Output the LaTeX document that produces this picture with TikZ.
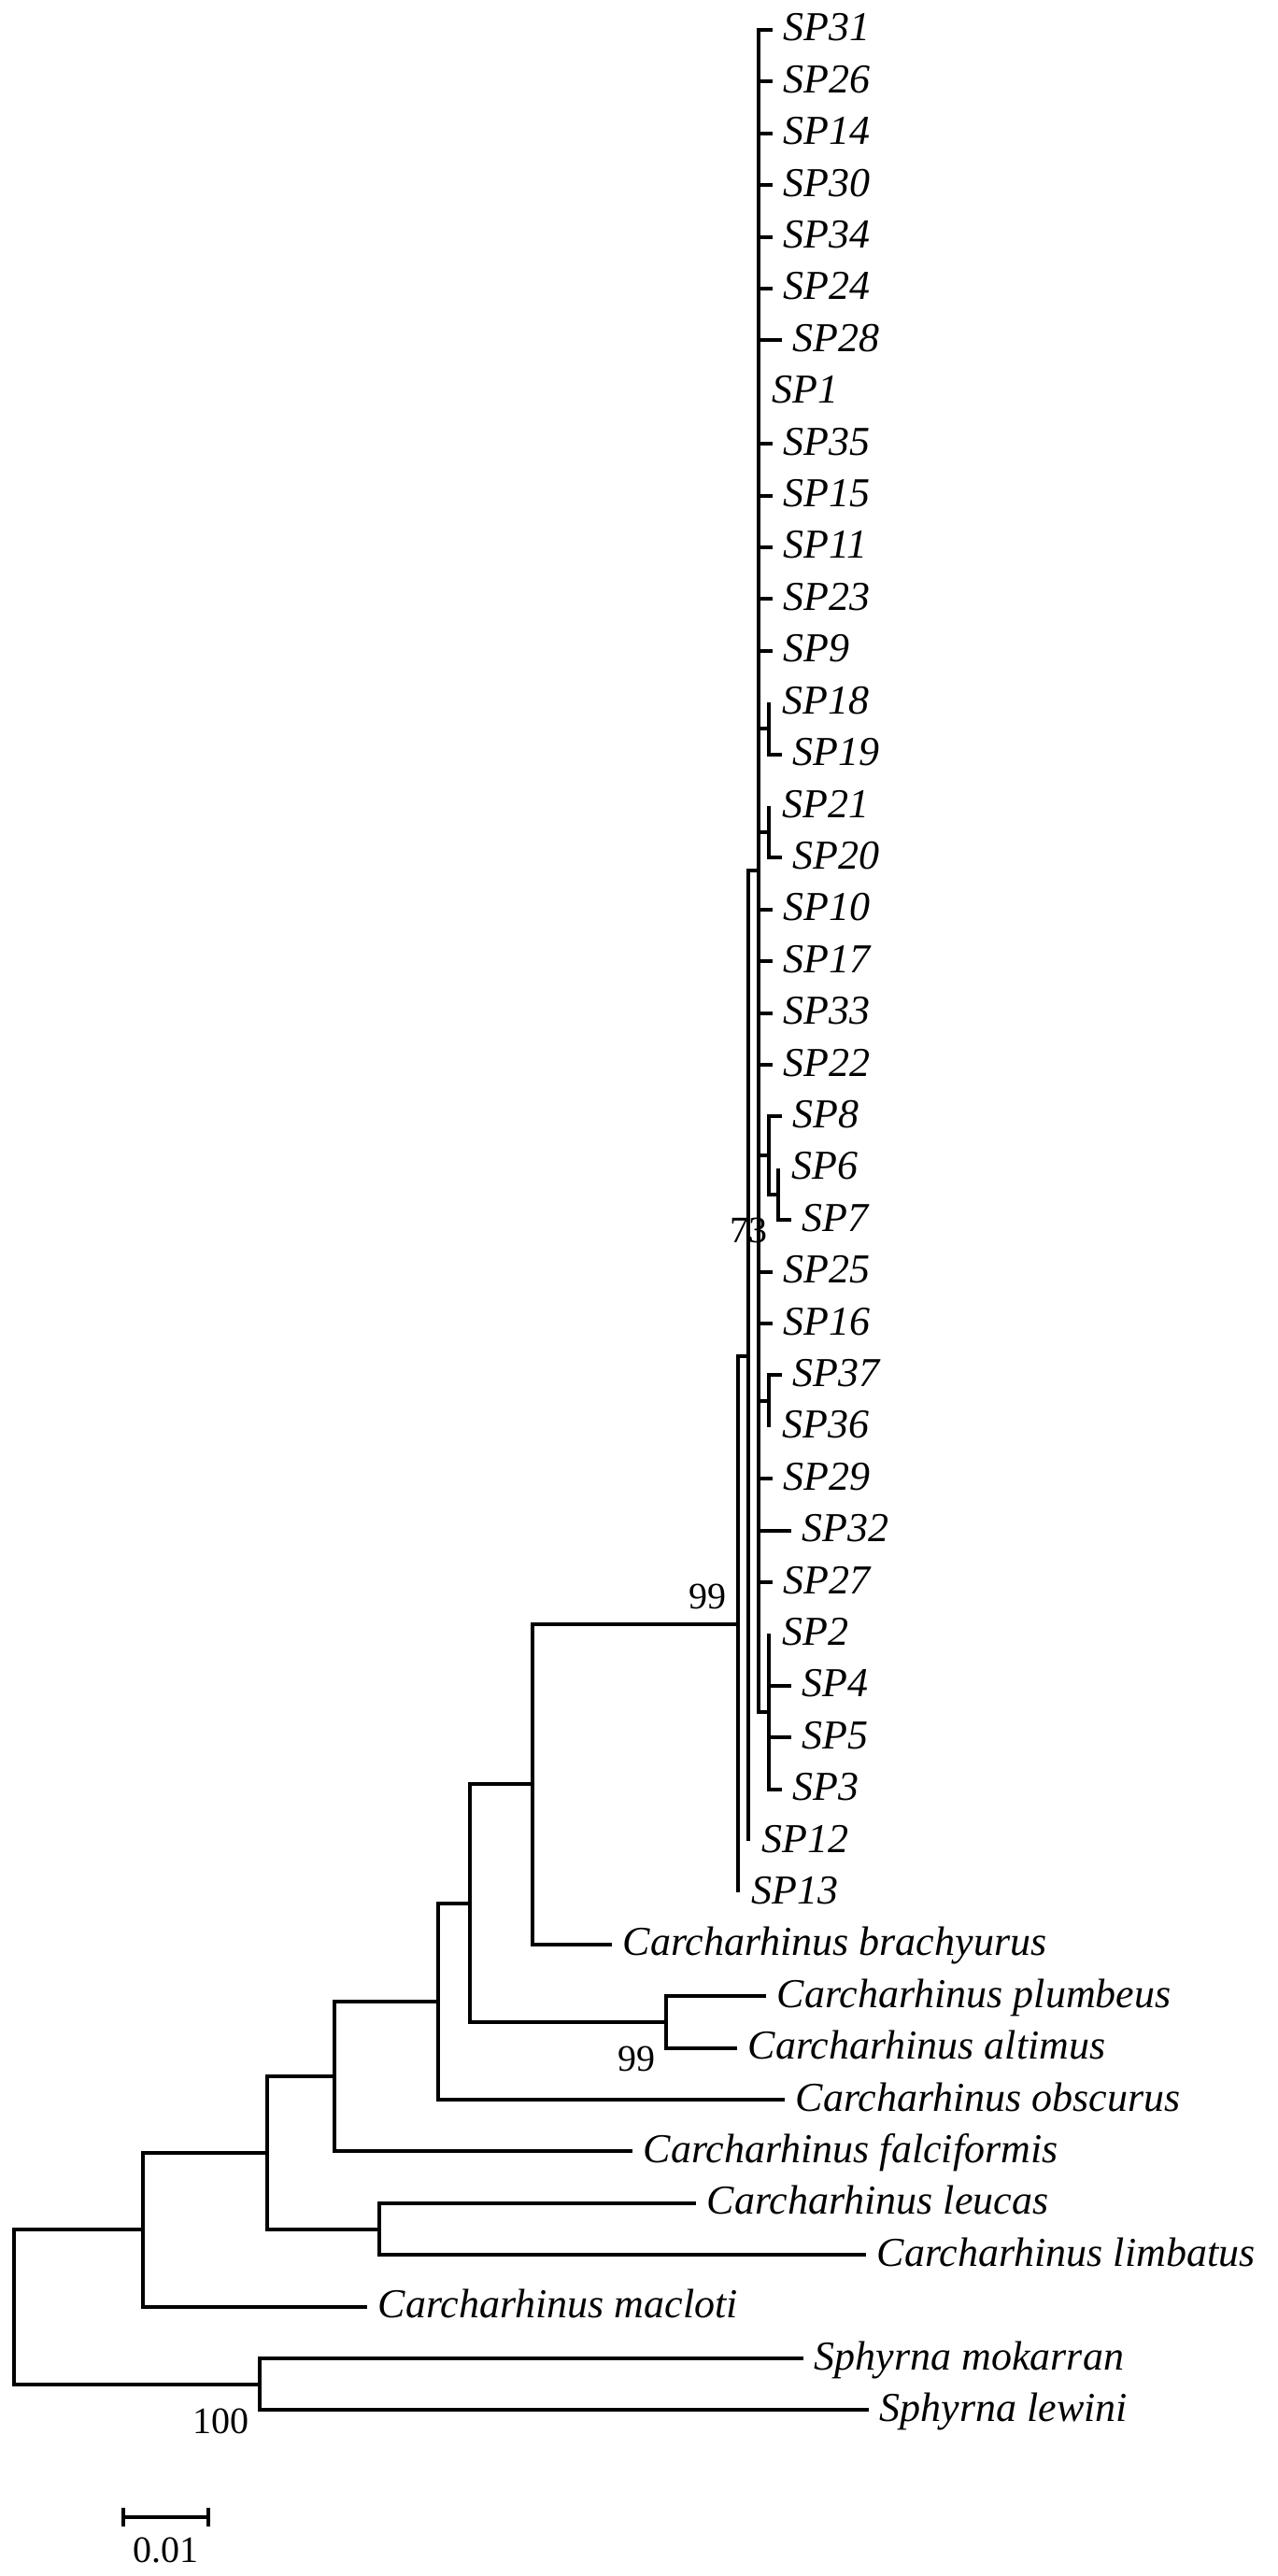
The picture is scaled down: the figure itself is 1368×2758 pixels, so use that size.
\documentclass[tikz,border=0pt]{standalone}
\usepackage{fontspec}
\setmainfont{Liberation Serif}
\newcommand\mytip[5]{\coordinate (#1) at (#2,#3);\node[lab] (#1l) at ({#2+#4},{#3+12}) {#5};}
\begin{document}
\begin{tikzpicture}[x=0.25pt,y=-0.25pt,
  br/.style={line width=1pt},
  lab/.style={font=\fontsize{11}{13}\selectfont\itshape, inner sep=0pt, anchor=base west},
  num/.style={font=\fontsize{10}{12}\selectfont, inner sep=0pt, anchor=base east}]
\useasboundingbox (0,0) rectangle (1368,2758);
% tips
\mytip{SP31}{827}{32}{11}{SP31}
\mytip{SP26}{827}{87.4}{11}{SP26}
\mytip{SP14}{827}{142.8}{11}{SP14}
\mytip{SP30}{827}{198.2}{11}{SP30}
\mytip{SP34}{827}{253.6}{11}{SP34}
\mytip{SP24}{827}{309}{11}{SP24}
\mytip{SP28}{837}{364.4}{11}{SP28}
\mytip{SP1}{812}{419.8}{14}{SP1}
\mytip{SP35}{827}{475.2}{11}{SP35}
\mytip{SP15}{827}{530.6}{11}{SP15}
\mytip{SP11}{827}{586}{11}{SP11}
\mytip{SP23}{827}{641.4}{11}{SP23}
\mytip{SP9}{827}{696.8}{11}{SP9}
\mytip{SP18}{823}{752.2}{14}{SP18}
\mytip{SP19}{837}{807.6}{11}{SP19}
\mytip{SP21}{823}{863}{14}{SP21}
\mytip{SP20}{837}{918.4}{11}{SP20}
\mytip{SP10}{827}{973.8}{11}{SP10}
\mytip{SP17}{827}{1029.2}{11}{SP17}
\mytip{SP33}{827}{1084.6}{11}{SP33}
\mytip{SP22}{827}{1140}{11}{SP22}
\mytip{SP8}{837}{1195.4}{11}{SP8}
\mytip{SP6}{833}{1250.8}{14}{SP6}
\mytip{SP7}{847}{1306.2}{11}{SP7}
\mytip{SP25}{827}{1361.6}{11}{SP25}
\mytip{SP16}{827}{1417}{11}{SP16}
\mytip{SP37}{837}{1472.4}{11}{SP37}
\mytip{SP36}{823}{1527.8}{14}{SP36}
\mytip{SP29}{827}{1583.2}{11}{SP29}
\mytip{SP32}{847}{1638.6}{11}{SP32}
\mytip{SP27}{827}{1694}{11}{SP27}
\mytip{SP2}{823}{1749.4}{14}{SP2}
\mytip{SP4}{847}{1804.8}{11}{SP4}
\mytip{SP5}{847}{1860.2}{11}{SP5}
\mytip{SP3}{837}{1915.6}{11}{SP3}
\mytip{SP12}{801}{1971}{14}{SP12}
\mytip{SP13}{790}{2026.4}{14}{SP13}
\mytip{brach}{655}{2081.8}{11}{Carcharhinus brachyurus}
\mytip{plumb}{820}{2137.2}{11}{Carcharhinus plumbeus}
\mytip{altim}{789}{2192.6}{11}{Carcharhinus altimus}
\mytip{obscu}{840}{2248}{11}{Carcharhinus obscurus}
\mytip{falci}{677}{2303.4}{11}{Carcharhinus falciformis}
\mytip{leuca}{745}{2358.8}{11}{Carcharhinus leucas}
\mytip{limba}{927}{2414.2}{11}{Carcharhinus limbatus}
\mytip{maclo}{393}{2469.6}{11}{Carcharhinus macloti}
\mytip{mokar}{860}{2525}{11}{Sphyrna mokarran}
\mytip{lewin}{930}{2580.4}{11}{Sphyrna lewini}
% internal nodes
\coordinate (M) at (823,779.9);
\coordinate (N) at (823,890.7);
\coordinate (P) at (833,1278.5);
\coordinate (O) at (823,1236.95);
\coordinate (Q) at (823,1500.1);
\coordinate (L) at (823,1832.5);
\coordinate (K) at (812,932.25);
\coordinate (J) at (801,1451.6);
\coordinate (I) at (790,1739);
\coordinate (H) at (570,1910.4);
\coordinate (G) at (713,2164.9);
\coordinate (F) at (503,2037.65);
\coordinate (E) at (469,2142.8);
\coordinate (D) at (358,2223.1);
\coordinate (C) at (406,2386.5);
\coordinate (B) at (286,2304.8);
\coordinate (A) at (153,2387.2);
\coordinate (S) at (278,2552.7);
\coordinate (R) at (15,2470);
% branches
\foreach \c in {SP31,SP26,SP14,SP30,SP34,SP24,SP28,SP1,SP35,SP15,SP11,SP23,SP9,M,N,SP10,SP17,SP33,SP22,O,SP25,SP16,Q,SP29,SP32,SP27,L}
  \draw[br] (K) |- (\c);
\foreach \p/\c in {M/SP18,M/SP19,N/SP21,N/SP20,O/SP8,O/P,P/SP6,P/SP7,Q/SP37,Q/SP36,
  L/SP2,L/SP4,L/SP5,L/SP3,J/K,J/SP12,I/J,I/SP13,H/I,H/brach,G/plumb,G/altim,
  F/H,F/G,E/F,E/obscu,D/E,D/falci,C/leuca,C/limba,B/D,B/C,A/B,A/maclo,
  S/mokar,S/lewin,R/A,R/S}
  \draw[br] (\p) |- (\c);
% support values
\node[num] (b73) at (822,1330) {73};
\node[num] (b99a) at (778,1722) {99};
\node[num] (b99b) at (702,2217) {99};
\node[num] (b100) at (267,2605) {100};
% scale bar
\coordinate (sb1) at (132,2695);
\coordinate (sb2) at (223,2695);
\draw[br] (sb1) -- (sb2);
\draw[br] ([yshift=2.6pt]sb1) -- ([yshift=-2.6pt]sb1);
\draw[br] ([yshift=2.6pt]sb2) -- ([yshift=-2.6pt]sb2);
\node[font=\fontsize{10}{12}\selectfont, inner sep=0pt, anchor=base] (sbl) at (177,2743) {0.01};
\end{tikzpicture}
\end{document}
